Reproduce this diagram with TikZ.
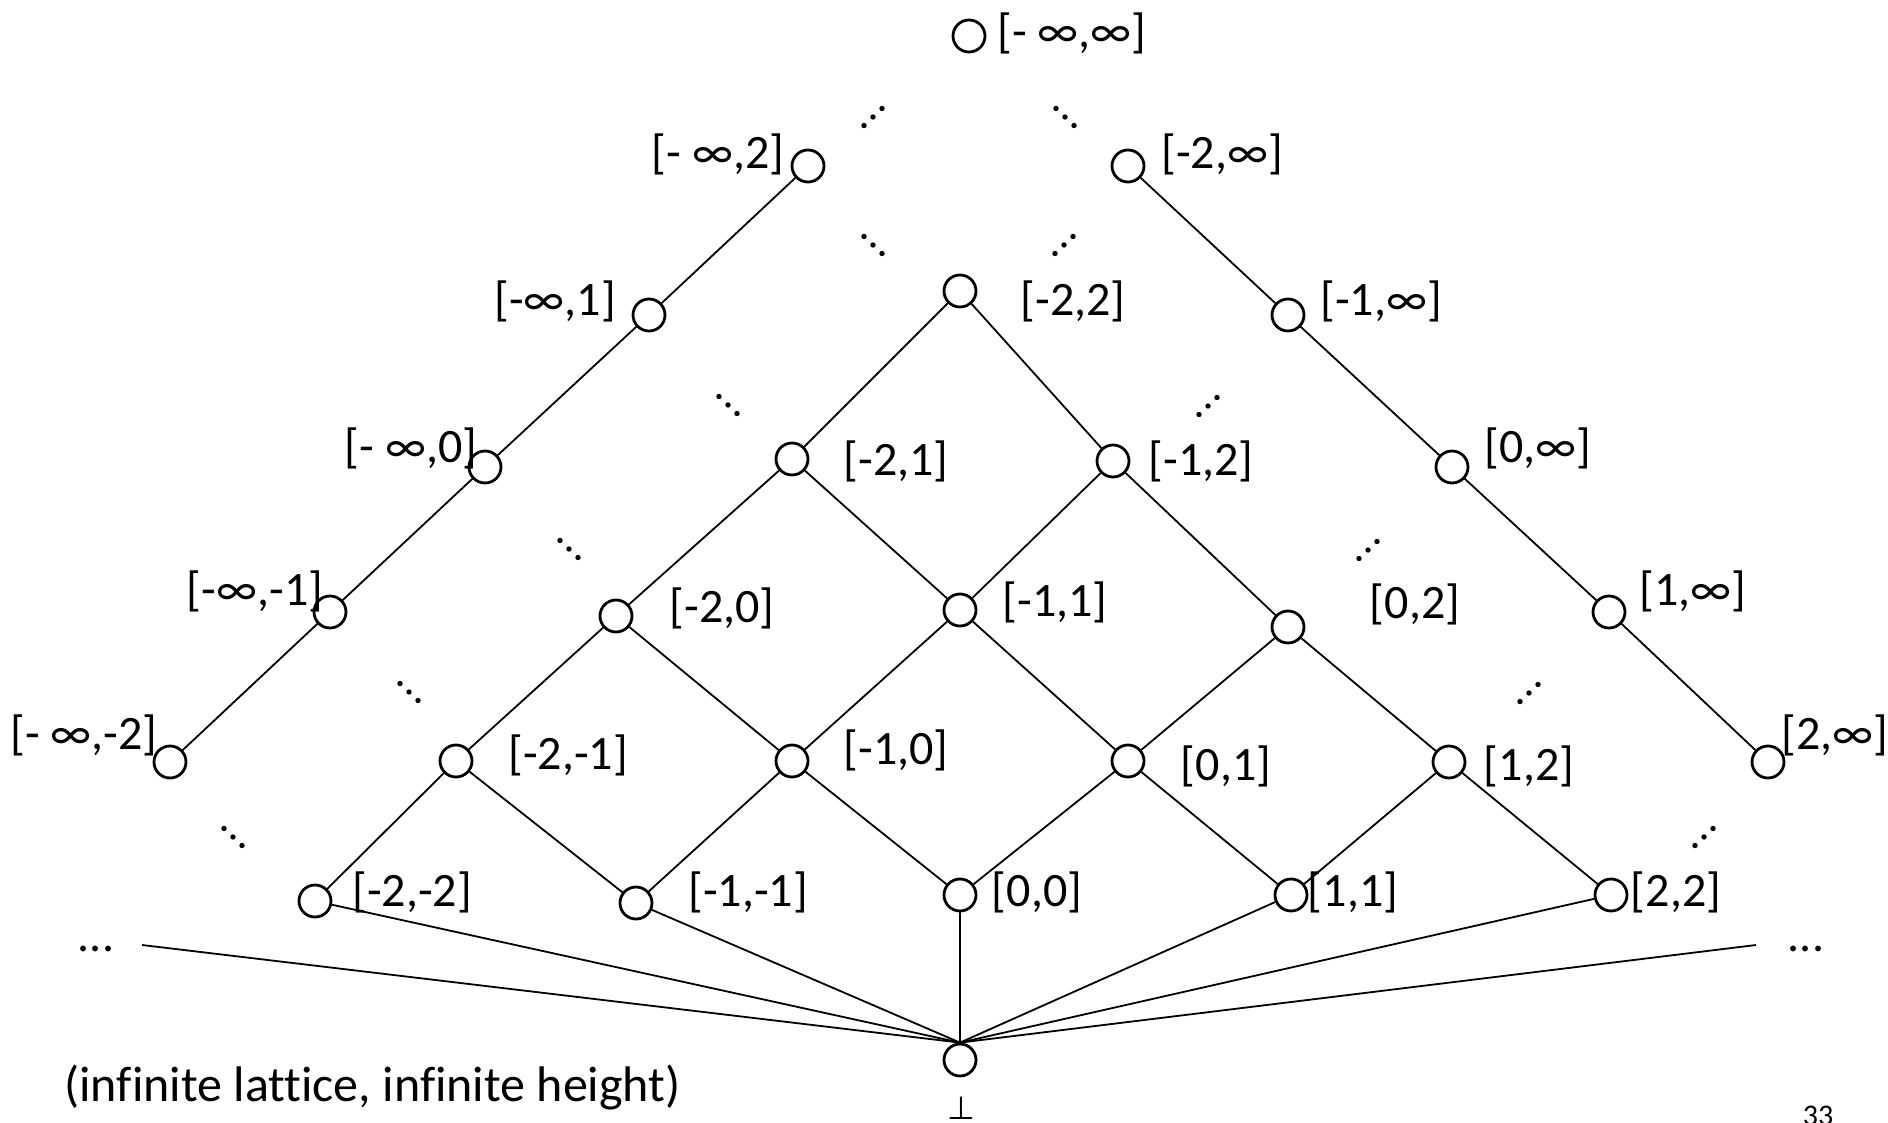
\documentclass[tikz,border=0pt]{standalone}
\usepackage{fontspec}
\setmainfont{Carlito}[Ligatures=NoCommon]
\newfontfamily\symfont{DejaVu Sans}
\usetikzlibrary{positioning}
\tikzset{
  elem/.style={circle,draw,line width=2.8pt,minimum size=32pt,inner sep=0pt},
  lbl/.style={font=\fontsize{48}{52}\selectfont,inner sep=0pt},
  edge/.style={line width=1.8pt},
}
% diagonal dots, falling and rising
\newcommand{\dotsdn}[1]{\foreach \k in {-1,0,1} \fill[shift={(#1)}] (9*\k,8.5*\k) circle (2.7pt);}
\newcommand{\dotsup}[1]{\foreach \k in {-1,0,1} \fill[shift={(#1)}] (9*\k,-8.5*\k) circle (2.7pt);}
\begin{document}
\begin{tikzpicture}[x=1pt,y=-1pt]
\useasboundingbox (0,0) rectangle (1888,1123);
% elements
\node[elem] (ninf-inf) at (969,36) {};
\node[elem] (ninf-2) at (808,166) {};
\node[elem] (m2-inf) at (1128,166) {};
\node[elem] (ninf-1) at (649,315) {};
\node[elem] (m2-2) at (960,291) {};
\node[elem] (m1-inf) at (1288,315) {};
\node[elem] (ninf-0) at (485,467) {};
\node[elem] (m2-1) at (792,459) {};
\node[elem] (m1-2) at (1113,461) {};
\node[elem] (0-inf) at (1452,467) {};
\node[elem] (ninf-m1) at (330,612) {};
\node[elem] (m2-0) at (616,616) {};
\node[elem] (m1-1) at (960,610) {};
\node[elem] (0-2) at (1288,627) {};
\node[elem] (1-inf) at (1609,612) {};
\node[elem] (ninf-m2) at (170,762) {};
\node[elem] (m2-m1) at (456,761) {};
\node[elem] (m1-0) at (792,761) {};
\node[elem] (0-1) at (1128,761) {};
\node[elem] (1-2) at (1449,762) {};
\node[elem] (2-inf) at (1768,762) {};
\node[elem] (m2-m2) at (315,901) {};
\node[elem] (m1-m1) at (636,903) {};
\node[elem] (0-0) at (960,895) {};
\node[elem] (1-1) at (1291,895) {};
\node[elem] (2-2) at (1611,895) {};
\node[elem] (bot) at (960,1060) {};
% labels
\node[lbl] (l-ninf-inf) at (1072,33) {[- ∞,∞]};
\node[lbl] (l-ninf-2) at (718,154) {[- ∞,2]};
\node[lbl] (l-m2-inf) at (1222,154) {[-2,∞]};
\node[lbl] (l-ninf-1) at (555,301) {[-∞,1]};
\node[lbl] (l-m2-2) at (1073,301) {[-2,2]};
\node[lbl] (l-m1-inf) at (1381,301) {[-1,∞]};
\node[lbl] (l-ninf-0) at (411,448) {[- ∞,0]};
\node[lbl] (l-m2-1) at (896,461) {[-2,1]};
\node[lbl] (l-m1-2) at (1201,461) {[-1,2]};
\node[lbl] (l-0-inf) at (1538,448) {[0,∞]};
\node[lbl] (l-ninf-m1) at (255,591) {[-∞,-1]};
\node[lbl] (l-m2-0) at (722,608) {[-2,0]};
\node[lbl] (l-m1-1) at (1055,602) {[-1,1]};
\node[lbl] (l-0-2) at (1415,604) {[0,2]};
\node[lbl] (l-1-inf) at (1693,591) {[1,∞]};
\node[lbl] (l-ninf-m2) at (84,735) {[- ∞,-2]};
\node[lbl] (l-m2-m1) at (568,755) {[-2,-1]};
\node[lbl] (l-m1-0) at (896,750) {[-1,0]};
\node[lbl] (l-0-1) at (1226,766) {[0,1]};
\node[lbl] (l-1-2) at (1529,766) {[1,2]};
\node[lbl] (l-2-inf) at (1835,735) {[2,∞]};
\node[lbl] (l-m2-m2) at (412,892) {[-2,-2]};
\node[lbl] (l-m1-m1) at (748,892) {[-1,-1]};
\node[lbl] (l-0-0) at (1037,892) {[0,0]};
\node[lbl] (l-1-1) at (1353,892) {[1,1]};
\node[lbl] (l-2-2) at (1676,892) {[2,2]};
\node[font=\fontsize{32}{36}\symfont,inner sep=0pt,anchor=base] (l-bot) at (961,1119) {⊥};
% edges
\draw[edge] (ninf-2) -- (ninf-1) -- (ninf-0) -- (ninf-m1) -- (ninf-m2);
\draw[edge] (m2-inf) -- (m1-inf) -- (0-inf) -- (1-inf) -- (2-inf);
\foreach \a/\b in {m2-2/m2-1, m2-2/m1-2, m2-1/m2-0, m2-1/m1-1, m1-2/m1-1, m1-2/0-2,
  m2-0/m2-m1, m2-0/m1-0, m1-1/m1-0, m1-1/0-1, 0-2/0-1, 0-2/1-2,
  m2-m1/m2-m2, m2-m1/m1-m1, m1-0/m1-m1, m1-0/0-0, 0-1/0-0, 0-1/1-1, 1-2/1-1, 1-2/2-2}
  \draw[edge] (\a) -- (\b);
\coordinate (far-l) at (142,945);
\coordinate (far-r) at (1756,945);
\foreach \a in {far-l, m2-m2, m1-m1, 0-0, 1-1, 2-2, far-r}
  \draw[edge] (\a) -- (bot.north);
\node[lbl,anchor=base] (more-l) at (96,951) {...};
\node[lbl,anchor=base] (more-r) at (1806,951) {...};
% dots
\dotsup{873,117} \dotsdn{1065,117}
\dotsdn{873,245} \dotsup{1064,245}
\dotsdn{728,405} \dotsup{1208,406}
\dotsdn{569,549} \dotsup{1368,550}
\dotsdn{409,692} \dotsup{1529,693}
\dotsdn{233,837} \dotsup{1704,837}
% caption
\node[font=\fontsize{50}{54}\selectfont,inner sep=0pt,anchor=west] (note) at (64,1088) {(infinite lattice, infinite height)};
\node[font=\fontsize{30}{32}\selectfont,inner sep=0pt,anchor=north] (page) at (1818,1106) {33};
\end{tikzpicture}
\end{document}
